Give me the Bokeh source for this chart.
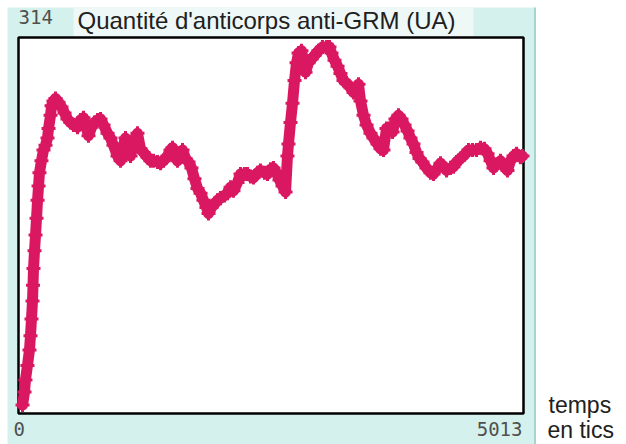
from bokeh.plotting import figure
from bokeh.models import Label, Range1d, BoxAnnotation
from bokeh.embed import file_html
from bokeh.resources import INLINE

# --- data (time in ticks, antibody quantity in UA) ---
ticks = [40, 60, 69, 89, 109, 119, 129, 139, 144, 149, 159, 169, 179, 189, 199, 208,
         228, 248, 268, 288, 298, 318, 328, 347, 367, 397, 427, 457, 486, 516, 546, 586,
         615, 645, 675, 695, 725, 754, 784, 814, 844, 884, 913, 943, 983, 1013, 1042,
         1062, 1092, 1112, 1142, 1181, 1211, 1241, 1281, 1310, 1340, 1380, 1410, 1439,
         1479, 1509, 1529, 1559, 1578, 1608, 1628, 1658, 1688, 1717, 1747, 1777, 1807,
         1836, 1866, 1886, 1916, 1946, 1975, 2005, 2045, 2075, 2105, 2134, 2174, 2204,
         2244, 2273, 2303, 2333, 2373, 2402, 2442, 2472, 2502, 2531, 2561, 2591, 2621,
         2651, 2670, 2680, 2700, 2720, 2740, 2760, 2780, 2809, 2829, 2849, 2879, 2909,
         2938, 2978, 3018, 3058, 3087, 3107, 3137, 3167, 3196, 3226, 3256, 3296, 3326,
         3355, 3375, 3395, 3425, 3455, 3494, 3524, 3564, 3594, 3623, 3653, 3683, 3713,
         3742, 3772, 3802, 3832, 3862, 3891, 3921, 3951, 3981, 4010, 4050, 4090, 4120,
         4159, 4189, 4219, 4249, 4288, 4318, 4348, 4388, 4427, 4467, 4507, 4547, 4586,
         4626, 4656, 4686, 4715, 4745, 4785, 4815, 4854, 4884, 4914, 4944, 4983, 5003]
anticorps = [7, 18, 28, 40, 53, 65, 79, 94, 107, 121, 136, 149, 163, 178, 190, 201,
             211, 220, 224, 230, 238, 249, 257, 261, 263, 260, 256, 251, 246, 243, 241, 239,
             245, 247, 238, 232, 239, 243, 245, 246, 241, 234, 230, 224, 215, 211, 224,
             230, 220, 215, 228, 234, 221, 218, 214, 211, 211, 210, 209, 211,
             215, 220, 222, 215, 211, 215, 220, 213, 210, 205, 196, 188, 184,
             178, 172, 167, 172, 175, 178, 180, 182, 184, 189, 186, 193, 200,
             200, 200, 198, 197, 201, 203, 201, 200, 204, 205, 201, 195, 190,
             185, 215, 225, 243, 259, 278, 293, 301, 303, 295, 285, 293, 296,
             299, 303, 306, 306, 306, 301, 295, 290, 284, 278, 276, 272, 268,
             270, 275, 261, 249, 241, 234, 230, 225, 221, 220, 238, 238, 235,
             246, 249, 246, 241, 236, 230, 225, 218, 213, 210, 205, 201, 200,
             205, 209, 206, 203, 205, 206, 210, 213, 216, 220, 220, 220,
             222, 221, 217, 211, 205, 208, 211, 207, 203, 211, 215, 217, 214, 215]

x_min, x_max = 0, 5013
y_min, y_max = 0, 314
title_text = "Quantité d'anticorps anti-GRM (UA)"
x_label_lines = ["temps", "en tics"]

PANEL = "#d5f1ee"
TITLE_BG = "#eef8f7"
INK = "#da1862"
NUMCOL = "#505050"
TXT = "#202020"

W, H = 626, 444
# pixel layout of the plotting box inside the picture
BOX_L, BOX_R, BOX_T, BOX_B = 18, 523, 37, 413
XPP = (x_max - x_min) / (BOX_R - BOX_L)
YPP = (y_max - y_min) / (BOX_B - BOX_T)
xs0 = x_min - BOX_L * XPP
xs1 = x_max + (W - BOX_R) * XPP
ys0 = y_min - (H - BOX_B) * YPP
ys1 = y_max + BOX_T * YPP


def dx(px):
    return xs0 + px * XPP


def dy(py):
    return ys1 - py * YPP


p = figure(width=W, height=H, output_backend="svg", toolbar_location=None,
           x_range=Range1d(xs0, xs1), y_range=Range1d(ys0, ys1),
           x_axis_location=None, y_axis_location=None,
           min_border=0, outline_line_color=None,
           background_fill_color="white", border_fill_color="white")
p.grid.visible = False

# cyan panel and lighter title strip
p.add_layout(BoxAnnotation(left=dx(7), right=dx(535), top=dy(7), bottom=dy(H + 5),
                           fill_color=PANEL, fill_alpha=1, line_color=None, level="underlay"))
p.add_layout(BoxAnnotation(left=dx(533.5), right=dx(535.5), top=dy(7), bottom=dy(H + 5),
                           fill_color="#a6d3cf", fill_alpha=1, line_color=None, level="underlay"))
p.add_layout(BoxAnnotation(left=dx(73), right=dx(473), top=dy(7), bottom=dy(BOX_T),
                           fill_color=TITLE_BG, fill_alpha=1, line_color=None, level="underlay"))

# plotting box
p.quad(left=[x_min], right=[x_max], bottom=[y_min], top=[y_max],
       fill_color="white", line_color="black", line_width=2.5)

p.line(ticks, anticorps, line_color=INK, line_width=11, line_join="round", line_cap="round")
p.scatter(ticks, anticorps, marker="cross", size=14, line_color=INK, line_width=3)

p.add_layout(Label(x=dx(18), y=dy(16), text=str(y_max), text_baseline="alphabetic",
                   text_font="DejaVu Sans Mono", text_font_size="19px", text_color=NUMCOL))
p.add_layout(Label(x=dx(77), y=dy(20), text=title_text, text_baseline="alphabetic",
                   text_font="Liberation Sans", text_font_size="24px", text_color=TXT))
p.add_layout(Label(x=dx(13), y=dy(428), text=str(x_min), text_baseline="alphabetic",
                   text_font="DejaVu Sans Mono", text_font_size="19px", text_color=NUMCOL))
p.add_layout(Label(x=dx(522), y=dy(428), text=str(x_max), text_baseline="alphabetic",
                   text_align="right",
                   text_font="DejaVu Sans Mono", text_font_size="19px", text_color=NUMCOL))
p.add_layout(Label(x=dx(548), y=dy(404), text=x_label_lines[0], text_baseline="alphabetic",
                   text_font="Liberation Sans", text_font_size="23px", text_color=TXT))
p.add_layout(Label(x=dx(547), y=dy(429), text=x_label_lines[1], text_baseline="alphabetic",
                   text_font="Liberation Sans", text_font_size="23px", text_color=TXT))

open("out.html", "w").write(file_html(p, INLINE))
